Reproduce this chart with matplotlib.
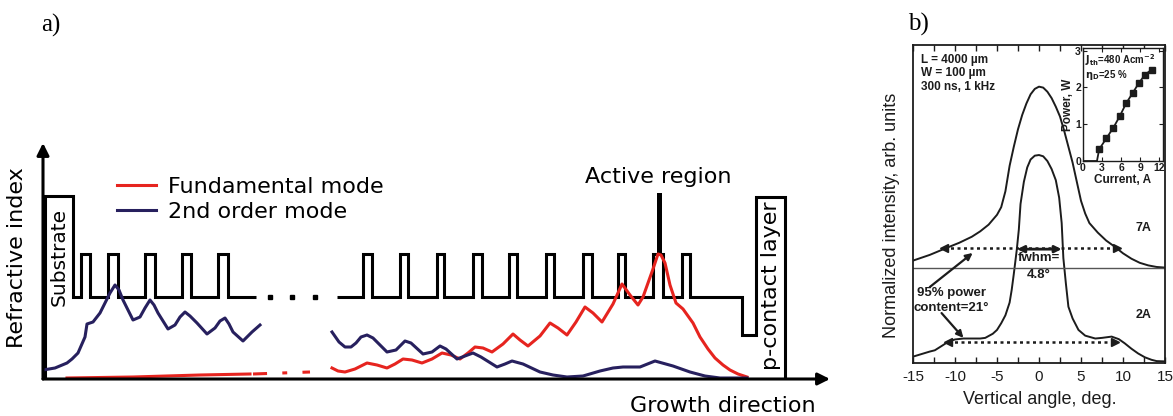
import numpy as np
import matplotlib
matplotlib.use("Agg")
import matplotlib.pyplot as plt
from matplotlib.ticker import MultipleLocator, FixedLocator

# ---------------- panel a: layer structure and mode profiles ----------------
# refractive-index profile, left section (substrate + cladding periods)
left_edges = [0, 2, 30, 38, 47, 65, 75, 102, 112, 139, 148, 175, 185, 213]
left_levels = [0, 183, 82, 125, 82, 125, 82, 125, 82, 125, 82, 125, 82]
# right section (periods, active region, p-contact layer)
right_edges = [294, 320, 329, 357, 365, 394, 401, 430, 439, 466, 474, 503, 511,
               540, 549, 575, 582, 610, 620, 639, 647, 699, 713, 742, 744]
right_levels = [82, 125, 82, 125, 82, 125, 82, 125, 82, 125, 82, 125, 82,
                125, 82, 125, 82, 125, 82, 125, 82, 44, 182, 0]
active_pos, active_width, active_bottom, active_top = 616.5, 5, 125, 186
gap_dots_x = [227, 249, 272]
gap_dots_y = [82, 82, 82]

# second-order mode intensity
m2_left_x = [0, 12, 24, 29, 35, 42, 44, 50, 57, 67, 72, 76, 80, 90, 97, 102, 107,
             111, 115, 125, 132, 137, 142, 147, 154, 164, 172, 177, 182, 186, 190,
             200, 209, 217]
m2_left_y = [9, 11, 16, 20, 26, 42, 55, 57, 66, 86, 94, 89, 79, 59, 62, 71, 79,
             74, 66, 50, 54, 62, 67, 63, 56, 45, 51, 58, 61, 55, 47, 38, 47, 54]
m2_right_x = [289, 296, 302, 308, 313, 318, 324, 330, 344, 353, 362, 368, 380,
              389, 397, 403, 414, 422, 430, 438, 454, 462, 469, 480, 497, 510,
              524, 540, 557, 570, 580, 597, 612, 630, 647, 662, 677, 704]
m2_right_y = [47, 37, 32, 32, 36, 42, 44, 41, 27, 29, 38, 36, 25, 27, 33, 30, 20,
              23, 26, 22, 12, 15, 18, 15, 7, 4, 2, 3, 8, 11, 12, 12, 18, 13, 7,
              3, 1, 1]

# fundamental mode intensity
m1_left_x = [24, 90, 157, 207]
m1_left_y = [1, 2, 4, 5]
m1_gap_x = [210, 267]
m1_gap_y = [5, 7]
m1_right_x = [289, 295, 302, 312, 324, 334, 344, 352, 360, 369, 379, 389, 399,
              408, 417, 425, 432, 440, 449, 460, 470, 477, 485, 497, 507, 515,
              524, 533, 542, 550, 559, 570, 579, 587, 595, 600, 605, 610, 615,
              618, 622, 627, 633, 640, 650, 657, 665, 672, 680, 687, 695, 704]
m1_right_y = [11, 8, 7, 10, 16, 14, 11, 15, 20, 19, 16, 20, 26, 24, 20, 26, 32,
              31, 27, 35, 45, 39, 33, 43, 56, 51, 44, 57, 72, 66, 57, 75, 95, 84,
              74, 82, 96, 110, 125, 124, 116, 94, 76, 70, 56, 42, 30, 21, 14, 9,
              5, 2]

RED = "#e6241f"
NAVY = "#27205e"

W, H = 1173, 416
fig = plt.figure(figsize=(W / 100, H / 100), dpi=100)


def fx(px):
    return px / W


def fy(py):
    return 1 - py / H


axa = fig.add_axes([fx(43), fy(379), fx(830) - fx(43), fy(143) - fy(379)])
axa.set_xlim(0, 787)
axa.set_ylim(0, 236)
axa.axis("off")
# axes with arrow heads
axa.annotate("", xy=(0, 1), xytext=(0, 0), xycoords="axes fraction",
             arrowprops=dict(arrowstyle="-|>", lw=2.2, color="k",
                             mutation_scale=18, shrinkA=0, shrinkB=0))
axa.annotate("", xy=(1, 0), xytext=(0, 0), xycoords="axes fraction",
             arrowprops=dict(arrowstyle="-|>", lw=2.2, color="k",
                             mutation_scale=18, shrinkA=0, shrinkB=0))

axa.stairs(left_levels, left_edges, baseline=None, color="k", lw=2.2)
axa.stairs(right_levels, right_edges, baseline=None, color="k", lw=2.2)
axa.bar([active_pos], [active_top - active_bottom], bottom=active_bottom,
        width=active_width, color="k")
axa.plot(gap_dots_x, gap_dots_y, "s", color="k", ms=3.2)

l1, = axa.plot(m1_right_x, m1_right_y, color=RED, lw=2.2, solid_joinstyle="round",
               label="Fundamental mode")
axa.plot(m1_left_x, m1_left_y, color=RED, lw=2.2)
axa.plot(m1_gap_x, m1_gap_y, color=RED, lw=2.2, dashes=(4.6, 5, 1.6, 5, 2.6, 5))
l2, = axa.plot(m2_left_x, m2_left_y, color=NAVY, lw=2.2, solid_joinstyle="round",
               label="2nd order mode")
axa.plot(m2_right_x, m2_right_y, color=NAVY, lw=2.2, solid_joinstyle="round")

fig.legend(handles=[l1, l2], loc="upper left", bbox_to_anchor=(fx(117), fy(177)),
           frameon=False, fontsize=16, handlelength=1.75, handletextpad=0.55,
           labelspacing=0.22, borderpad=0, borderaxespad=0)

sans_a = "DejaVu Sans"
fig.text(fx(51), fy(25), "a)", family="Liberation Serif", fontsize=18,
         ha="center", va="center")
fig.text(fx(17), fy(258), "Refractive index", family=sans_a, fontsize=16,
         rotation=90, ha="center", va="center")
fig.text(fx(59), fy(257), "Substrate", family=sans_a, fontsize=14.5,
         rotation=90, ha="center", va="center")
fig.text(fx(771), fy(286), "p-contact layer", family=sans_a, fontsize=16,
         rotation=90, ha="center", va="center")
fig.text(fx(658), fy(177), "Active region", family=sans_a, fontsize=16,
         ha="center", va="center")
fig.text(fx(723), fy(406), "Growth direction", family=sans_a, fontsize=16,
         ha="center", va="center")

# ---------------- panel b: far-field profiles ----------------
ang_7a = [-15, -13, -11, -9.5, -8, -7, -6, -5, -4.5, -4, -3.5, -3, -2.5, -2, -1.5,
          -1, -0.5, 0, 0.5, 1, 1.5, 2, 2.5, 3, 3.5, 4, 4.5, 5, 5.5, 6, 7, 8, 9,
          10, 11, 12, 13, 14, 15]
int_7a = [0.322, 0.340, 0.362, 0.378, 0.397, 0.414, 0.435, 0.466, 0.49, 0.54,
          0.62, 0.68, 0.735, 0.78, 0.816, 0.845, 0.862, 0.869, 0.866, 0.853,
          0.833, 0.806, 0.775, 0.73, 0.68, 0.63, 0.57, 0.51, 0.47, 0.44, 0.41,
          0.385, 0.366, 0.345, 0.328, 0.315, 0.307, 0.302, 0.300]
ang_2a = [-15, -14, -13, -12.4, -11.5, -10.8, -10, -9, -8, -7, -6.4, -5.5, -5,
          -4.5, -4, -3.5, -3.25, -3, -2.65, -2.4, -2.2, -1.8, -1.4, -1, -0.5, 0,
          0.5, 1, 1.5, 2, 2.4, 2.7, 2.9, 3.2, 3.5, 4, 4.7, 5.5, 6.7, 7.5, 8.65,
          9.5, 10.2, 11, 11.8, 12.6, 13.4, 14, 15]
int_2a = [0.02, 0.028, 0.036, 0.04, 0.055, 0.067, 0.074, 0.077, 0.077, 0.077,
          0.079, 0.092, 0.104, 0.125, 0.15, 0.19, 0.23, 0.28, 0.355, 0.42, 0.5,
          0.57, 0.615, 0.64, 0.652, 0.654, 0.65, 0.635, 0.61, 0.575, 0.52, 0.44,
          0.33, 0.25, 0.177, 0.14, 0.104, 0.086, 0.077, 0.079, 0.083, 0.075,
          0.062, 0.045, 0.03, 0.018, 0.01, 0.006, 0.005]
offset_7a = 0.30
p95_upper = ([-11.3, 9.3], 0.362)
p95_lower = ([-10.8, 9.0], 0.067)
fwhm_span = ([-2.6, 2.7], 0.358)

# inset: light-current characteristic
thr_current = [0, 2.2]
thr_power = [0, 0]
current = [2.55, 3.7, 4.8, 5.8, 6.8, 7.8, 8.8, 9.8, 10.8]
power = [0.32, 0.62, 0.91, 1.22, 1.57, 1.84, 2.12, 2.35, 2.48]

INK = "#1c1c1c"
sans_b = "Liberation Sans"

axb = fig.add_axes([fx(913), fy(363), fx(1165) - fx(913), fy(45) - fy(363)])
axb.set_xlim(-15, 15)
axb.set_ylim(0, 1)
axb.plot(ang_7a, int_7a, color=INK, lw=1.4)
axb.plot(ang_2a, int_2a, color=INK, lw=1.4)
axb.axhline(offset_7a, color="#555555", lw=1.0)
for span, yv in (p95_upper, p95_lower):
    axb.plot(span, [yv, yv], color=INK, lw=1.8, ls=(0, (1.2, 1.4)))
    axb.plot([span[0]], [yv], marker="<", color=INK, ms=6)
    axb.plot([span[1]], [yv], marker=">", color=INK, ms=6)
axb.annotate("", xy=(fwhm_span[0][1], fwhm_span[1]), xytext=(fwhm_span[0][0], fwhm_span[1]),
             arrowprops=dict(arrowstyle="<|-|>", color=INK, lw=2.0,
                             mutation_scale=10, shrinkA=0, shrinkB=0))
axb.annotate("", xy=(-7.9, 0.346), xytext=(-13.0, 0.239),
             arrowprops=dict(arrowstyle="-|>", color=INK, lw=1.6,
                             mutation_scale=10, shrinkA=0, shrinkB=0))
axb.annotate("", xy=(-9.0, 0.079), xytext=(-11.6, 0.157),
             arrowprops=dict(arrowstyle="-|>", color=INK, lw=1.6,
                             mutation_scale=10, shrinkA=0, shrinkB=0))

bold = dict(family=sans_b, fontweight="bold", color=INK)
axb.text(0, 0.33, "fwhm=", fontsize=9.5, ha="center", va="center", **bold)
axb.text(0, 0.277, "4.8°", fontsize=9.5, ha="center", va="center", **bold)
axb.text(-10.4, 0.22, "95% power", fontsize=9.5, ha="center", va="center", **bold)
axb.text(-10.4, 0.173, "content=21°", fontsize=9.5, ha="center", va="center", **bold)
axb.text(12.4, 0.425, "7A", fontsize=9, ha="center", va="center", **bold)
axb.text(12.4, 0.151, "2A", fontsize=9, ha="center", va="center", **bold)
axb.text(-14.0, 0.953, "L = 4000 µm", fontsize=8.5, ha="left", va="center", **bold)
axb.text(-14.0, 0.912, "W = 100 µm", fontsize=8.5, ha="left", va="center", **bold)
axb.text(-14.0, 0.868, "300 ns, 1 kHz", fontsize=8.5, ha="left", va="center", **bold)

axb.xaxis.set_major_locator(FixedLocator([-15, -10, -5, 0, 5, 10, 15]))
axb.xaxis.set_minor_locator(MultipleLocator(2.5))
axb.tick_params(axis="x", which="both", direction="in", top=True, length=4,
                width=1.0, colors=INK, labelsize=11, pad=5)
axb.tick_params(axis="y", left=False, labelleft=False)
axb.set_xticklabels(["-15", "-10", "-5", "0", "5", "10", "15"], family=sans_b)
for s in axb.spines.values():
    s.set_linewidth(1.3)
    s.set_color(INK)

fig.text(fx(918), fy(24), "b)", family="Liberation Serif", fontsize=18,
         ha="center", va="center")
fig.text(fx(891), fy(215), "Normalized intensity, arb. units", family=sans_b,
         fontsize=13, rotation=90, ha="center", va="center", color=INK)
fig.text(fx(1040), fy(400), "Vertical angle, deg.", family=sans_b, fontsize=13,
         ha="center", va="center", color=INK)

axi = fig.add_axes([fx(1083), fy(161), fx(1163) - fx(1083), fy(48) - fy(161)])
axi.set_xlim(0, 12.6)
axi.set_ylim(0, 3.07)
axi.plot(thr_current + current, thr_power + power, color=INK, lw=1.3)
axi.plot(current, power, "s", color=INK, ms=4)
axi.xaxis.set_major_locator(FixedLocator([0, 3, 6, 9, 12]))
axi.yaxis.set_major_locator(FixedLocator([0, 1, 2, 3]))
axi.tick_params(which="both", direction="in", top=True, right=True, length=3,
                width=0.8, labelsize=7.5, pad=1.5, colors=INK)
for lab in axi.get_xticklabels() + axi.get_yticklabels():
    lab.set_fontweight("bold")
    lab.set_family(sans_b)
for s in axi.spines.values():
    s.set_linewidth(1.0)
    s.set_color(INK)
axi.set_xlabel("Current, A", fontsize=8.5, labelpad=1, **bold)
axi.set_ylabel("Power, W", fontsize=8.5, labelpad=1, **bold)
axi.text(0.25, 2.74, r"$\mathbf{J_{th}}$=480 Acm$^{\mathbf{-2}}$", fontsize=7,
         ha="left", va="center", **bold)
axi.text(0.25, 2.34, r"$\mathbf{\eta_D}$=25 %", fontsize=7, ha="left",
         va="center", **bold)

fig.savefig("out.png", dpi=100)
